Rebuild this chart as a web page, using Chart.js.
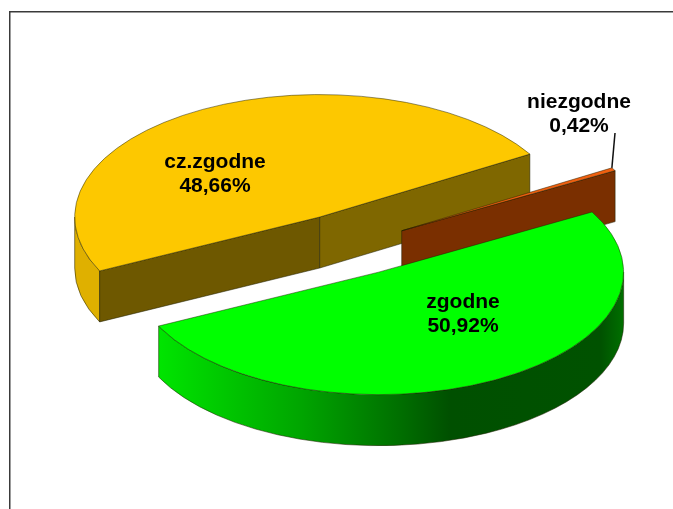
<!DOCTYPE html>
<html>
<head>
<meta charset="utf-8">
<style>
html,body{margin:0;padding:0;background:#fff;overflow:hidden}
canvas{display:block}
</style>
<script src="https://cdn.jsdelivr.net/npm/chart.js@4"></script>
</head>
<body>
<canvas id="c" width="673" height="509"></canvas>
<script>
const categories = ['cz.zgodne', 'niezgodne', 'zgodne'];
const values = [48.66, 0.42, 50.92];
const topColors = ['#fdc800', '#f06010', '#00ff00'];
const explode = [65, 59, 60];

const SQUASH = 0.5, DEPTH = 51, CENTER = {x: 350.7, y: 245.6};
const wallFill = [
  ctx => '#dfb000',
  ctx => '#7a2f00',
  ctx => { const g = ctx.createLinearGradient(160, 0, 624, 0);
           g.addColorStop(0, '#00e400'); g.addColorStop(0.3, '#00a600'); g.addColorStop(0.52, '#006e00');
           g.addColorStop(0.625, '#005000'); g.addColorStop(0.95, '#005200'); g.addColorStop(1, '#007000'); return g; }
];
const startFaceColors = ['#6e5800', '#7a2f00', '#009000'];
const endFaceColors = ['#7f6700', '#7a2f00', '#009000'];
const labelSpots = [{x: 215, y: 162}, {x: 579, y: 102}, {x: 463, y: 302}];
const LEADER_END = {x: 615, y: 133};

function geometry(el, i) {
  const mid = (el.startAngle + el.endAngle) / 2;
  return {
    sx: CENTER.x + Math.cos(mid) * explode[i],
    sy: CENTER.y + Math.sin(mid) * explode[i] * SQUASH,
    r: el.outerRadius, a0: el.startAngle, a1: el.endAngle
  };
}
function edge(ctx, g, a, fill) {
  const px = g.sx + g.r * Math.cos(a), py = g.sy + g.r * Math.sin(a) * SQUASH;
  ctx.beginPath();
  ctx.moveTo(g.sx, g.sy);
  ctx.lineTo(px, py);
  ctx.lineTo(px, py + DEPTH);
  ctx.lineTo(g.sx, g.sy + DEPTH);
  ctx.closePath();
  ctx.fillStyle = fill;
  ctx.fill();
  ctx.stroke();
}
function walls(ctx, g, fill) {
  [[0, Math.PI], [2 * Math.PI, 3 * Math.PI]].forEach(([lo, hi]) => {
    const s = Math.max(g.a0, lo), e = Math.min(g.a1, hi);
    if (e <= s) return;
    ctx.beginPath();
    ctx.ellipse(g.sx, g.sy, g.r, g.r * SQUASH, 0, s, e);
    ctx.ellipse(g.sx, g.sy + DEPTH, g.r, g.r * SQUASH, 0, e, s, true);
    ctx.closePath();
    ctx.fillStyle = fill;
    ctx.fill();
    ctx.stroke();
  });
}

const pie3d = {
  id: 'pie3d',
  beforeDraw(chart) {
    const ctx = chart.ctx;
    ctx.save();
    ctx.strokeStyle = '#3a3a3a';
    ctx.lineWidth = 1.5;
    ctx.beginPath();
    ctx.moveTo(9.75, chart.height);
    ctx.lineTo(9.75, 11.75);
    ctx.lineTo(chart.width, 11.75);
    ctx.stroke();
    ctx.restore();
  },
  beforeDatasetsDraw(chart) {
    const ctx = chart.ctx;
    const arcs = chart.getDatasetMeta(0).data;
    arcs.forEach((el, i) => {
      const g = geometry(el, i);
      ctx.save();
      ctx.strokeStyle = 'rgba(30,30,0,0.75)';
      ctx.lineWidth = 0.7;
      ctx.lineJoin = 'round';
      walls(ctx, g, wallFill[i](ctx));
      if (Math.cos(g.a0) < 0) edge(ctx, g, g.a0, startFaceColors[i]);
      if (Math.cos(g.a1) > 0) edge(ctx, g, g.a1, endFaceColors[i]);
      ctx.restore();
      ctx.save();
      ctx.translate(g.sx, g.sy);
      ctx.scale(1, SQUASH);
      ctx.translate(-el.x, -el.y);
      el.draw(ctx);
      ctx.restore();
    });
    return false;
  },
  afterDraw(chart) {
    const ctx = chart.ctx;
    const arcs = chart.getDatasetMeta(0).data;
    ctx.save();
    const b = geometry(arcs[1], 1);
    ctx.strokeStyle = '#111';
    ctx.lineWidth = 1.5;
    ctx.beginPath();
    ctx.moveTo(b.sx + b.r * Math.cos(b.a0), b.sy + b.r * Math.sin(b.a0) * SQUASH);
    ctx.lineTo(LEADER_END.x, LEADER_END.y);
    ctx.stroke();
    ctx.fillStyle = '#000';
    ctx.font = 'bold 21px "Liberation Sans", Arial, sans-serif';
    ctx.textAlign = 'center';
    ctx.textBaseline = 'middle';
    categories.forEach((name, i) => {
      const s = labelSpots[i];
      ctx.fillText(name, s.x, s.y);
      ctx.fillText(values[i].toFixed(2).replace('.', ',') + '%', s.x, s.y + 24.5);
    });
    ctx.restore();
  }
};

new Chart(document.getElementById('c'), {
  type: 'pie',
  data: {
    labels: categories,
    datasets: [{
      data: values,
      backgroundColor: topColors,
      borderColor: 'rgba(30,30,0,0.8)',
      borderWidth: 0.8,
      clip: false
    }]
  },
  options: {
    responsive: false,
    animation: false,
    rotation: 243.9,
    radius: 245,
    layout: {padding: 0},
    plugins: {legend: {display: false}, tooltip: {enabled: false}}
  },
  plugins: [pie3d]
});
</script>
</body>
</html>
